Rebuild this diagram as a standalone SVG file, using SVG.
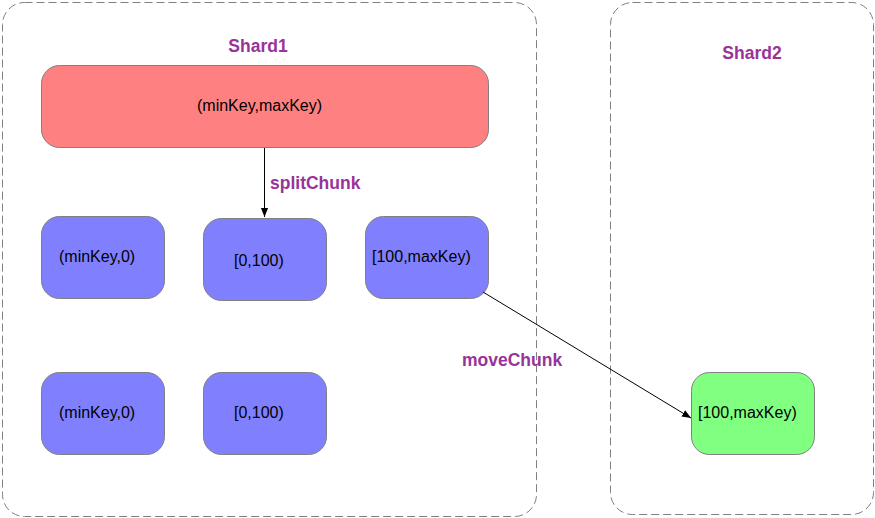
<svg xmlns="http://www.w3.org/2000/svg" width="875" height="518" viewBox="0 0 875 518">
<defs>
<style>
.shard{fill:#fff;stroke:#808080;stroke-width:1;stroke-dasharray:8,4}
.node{stroke:#808080;stroke-width:1}
.red{fill:#FF8080}
.blue{fill:#8080FF}
.green{fill:#80FF80}
.t{font-family:"Liberation Sans",Arial,sans-serif;font-size:16px;fill:#000}
.lbl{font-family:"Liberation Sans",Arial,sans-serif;font-size:17.5px;font-weight:bold;fill:#993399}
.edge{stroke:#000;stroke-width:1;fill:none}
</style>
<marker id="arr" viewBox="0 0 10 10" refX="10" refY="5" markerWidth="9" markerHeight="9" markerUnits="userSpaceOnUse" orient="auto">
<path d="M0,1 L10,5 L0,9 z" fill="#000"/>
</marker>
</defs>
<g id="shard1">
<rect class="shard" x="2.5" y="2.5" width="534" height="514" rx="22"/>
<text class="lbl" x="258" y="52" text-anchor="middle">Shard1</text>
</g>
<g id="shard2">
<rect class="shard" x="610.5" y="2.5" width="263" height="512" rx="22"/>
<text class="lbl" x="752" y="59" text-anchor="middle">Shard2</text>
</g>
<g id="chunk-all">
<rect class="node red" x="41.5" y="65.5" width="447" height="82" rx="18"/>
<text class="t" x="197" y="111">(minKey,maxKey)</text>
</g>
<g id="chunk-a1">
<rect class="node blue" x="41.5" y="216.5" width="123" height="82" rx="18"/>
<text class="t" x="59" y="262">(minKey,0)</text>
</g>
<g id="chunk-b1">
<rect class="node blue" x="203.5" y="218.5" width="123" height="82" rx="18"/>
<text class="t" x="234" y="266">[0,100)</text>
</g>
<g id="chunk-c1">
<rect class="node blue" x="365.5" y="216.5" width="123" height="82" rx="18"/>
<text class="t" x="372" y="262">[100,maxKey)</text>
</g>
<g id="chunk-a2">
<rect class="node blue" x="41.5" y="372.5" width="123" height="82" rx="18"/>
<text class="t" x="59" y="418">(minKey,0)</text>
</g>
<g id="chunk-b2">
<rect class="node blue" x="203.5" y="372.5" width="123" height="82" rx="18"/>
<text class="t" x="234" y="418">[0,100)</text>
</g>
<g id="chunk-moved">
<rect class="node green" x="691.5" y="372.5" width="123" height="82" rx="18"/>
<text class="t" x="698" y="418">[100,maxKey)</text>
</g>
<g id="connectors">
<line class="edge" x1="264.5" y1="148" x2="264.5" y2="217" marker-end="url(#arr)"/>
<text class="lbl" x="270" y="189">splitChunk</text>
<line class="edge" x1="483" y1="292" x2="691" y2="418" marker-end="url(#arr)"/>
<text class="lbl" x="462" y="366" font-size="18">moveChunk</text>
</g>
</svg>
